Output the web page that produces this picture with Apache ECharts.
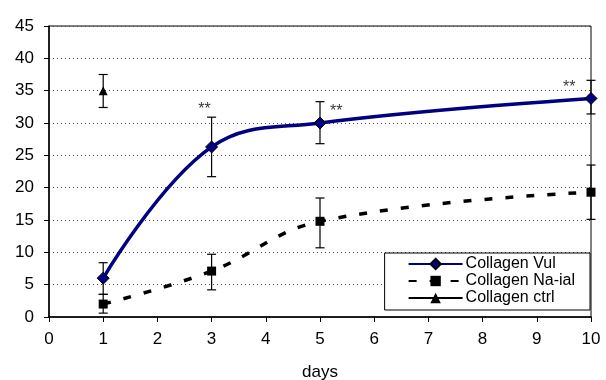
<!DOCTYPE html>
<html>
<head>
<meta charset="utf-8">
<script src="https://cdn.jsdelivr.net/npm/echarts@6/dist/echarts.min.js"></script>
<style>html,body{margin:0;padding:0;background:#fff}#c{width:606px;height:380px}</style>
</head>
<body>
<div id="c"></div>
<script>
var days = [1, 3, 5, 10];
var vul = [6.0, 26.3, 30.0, 33.8];
var vulLow = [3.5, 21.7, 26.8, 31.4];
var vulHigh = [8.4, 30.9, 33.3, 36.6];
var naial = [2.0, 7.1, 14.8, 19.3];
var naialLow = [0.6, 4.2, 10.7, 15.1];
var naialHigh = [3.5, 9.7, 18.4, 23.5];
var ctrlDays = [1];
var ctrl = [35.0];
var ctrlLow = [32.4];
var ctrlHigh = [37.5];
var starX = [2.87, 5.3, 9.6];
var starY = [32.1, 31.8, 35.4];
var xTicks = [0, 10, 1];
var yTicks = [0, 45, 5];

function pairs(xs, ys) { return xs.map(function (x, i) { return [x, ys[i]]; }); }
function errs(xs, lo, hi) { return xs.map(function (x, i) { return [x, lo[i], hi[i]]; }); }

var errData = [].concat(errs(days, vulLow, vulHigh), errs(days, naialLow, naialHigh), errs(ctrlDays, ctrlLow, ctrlHigh));

var FONT = 'Liberation Sans, Arial, sans-serif';
var chart = echarts.init(document.getElementById('c'), null, {renderer: 'canvas'});
chart.setOption({
  animation: false,
  grid: {left: 49, right: 15, top: 26, bottom: 63, show: true, borderColor: '#000', borderWidth: 1,
         containLabel: false, outerBoundsMode: 'none'},
  xAxis: {
    type: 'value', min: xTicks[0], max: xTicks[1], interval: xTicks[2],
    name: 'days', nameLocation: 'middle', nameGap: 47,
    nameTextStyle: {fontFamily: FONT, fontSize: 17, color: '#000'},
    axisLine: {lineStyle: {color: '#000', width: 1.5}},
    axisTick: {show: true, length: 5, lineStyle: {color: '#000', width: 1}},
    axisLabel: {fontFamily: FONT, fontSize: 17, color: '#000', margin: 14},
    splitLine: {show: false}
  },
  yAxis: {
    type: 'value', min: yTicks[0], max: yTicks[1], interval: yTicks[2],
    axisLine: {show: true, lineStyle: {color: '#000', width: 1.5}},
    axisTick: {show: true, length: 5, lineStyle: {color: '#000', width: 1}},
    axisLabel: {fontFamily: FONT, fontSize: 17, color: '#000', margin: 15},
    splitLine: {show: true, lineStyle: {color: '#444', type: [1, 3], width: 1}}
  },
  legend: {
    orient: 'vertical', right: 16, top: 253,
    padding: [3, 15, 4, 23], itemGap: 1, itemWidth: 54, itemHeight: 13,
    backgroundColor: '#fff', borderColor: '#000', borderWidth: 1, borderRadius: 0,
    textStyle: {fontFamily: FONT, fontSize: 16, color: '#000', padding: [0, 0, 0, -2]},
    data: ['Collagen Vul', 'Collagen Na-ial', 'Collagen ctrl']
  },
  series: [
    {
      name: 'errors', type: 'custom', z: 3, silent: true, clip: false,
      data: errData,
      renderItem: function (params, api) {
        var top = api.coord([api.value(0), api.value(2)]);
        var bot = api.coord([api.value(0), api.value(1)]);
        var hw = 4.5;
        var st = {stroke: '#000', lineWidth: 1.2};
        return {type: 'group', children: [
          {type: 'line', shape: {x1: top[0], y1: top[1], x2: bot[0], y2: bot[1]}, style: st},
          {type: 'line', shape: {x1: top[0] - hw, y1: top[1], x2: top[0] + hw, y2: top[1]}, style: st},
          {type: 'line', shape: {x1: bot[0] - hw, y1: bot[1], x2: bot[0] + hw, y2: bot[1]}, style: st}
        ]};
      }
    },
    {
      name: 'Collagen Na-ial', type: 'line', smooth: 0.4, z: 4,
      data: pairs(days, naial),
      symbol: 'rect', symbolSize: 9, showAllSymbol: true,
      itemStyle: {color: '#000', borderColor: '#000', borderWidth: 0},
      lineStyle: {color: '#000', width: 3.5, type: [8, 13]}
    },
    {
      name: 'Collagen Vul', type: 'line', smooth: 0.4, z: 5,
      data: pairs(days, vul),
      symbol: 'diamond', symbolSize: 12,
      itemStyle: {color: '#000080', borderColor: '#000', borderWidth: 1},
      lineStyle: {color: '#000080', width: 3.5}
    },
    {
      name: 'Collagen ctrl', type: 'line', z: 5,
      data: pairs(ctrlDays, ctrl),
      symbol: 'triangle', symbolSize: 9,
      itemStyle: {color: '#000'},
      lineStyle: {color: '#000', width: 2}
    },
    {
      name: 'stars', type: 'scatter', z: 6, silent: true,
      data: pairs(starX, starY),
      symbolSize: 0,
      label: {show: true, position: 'inside', formatter: '**', fontFamily: FONT, fontSize: 16, color: '#000'}
    }
  ]
});
</script>
</body>
</html>
